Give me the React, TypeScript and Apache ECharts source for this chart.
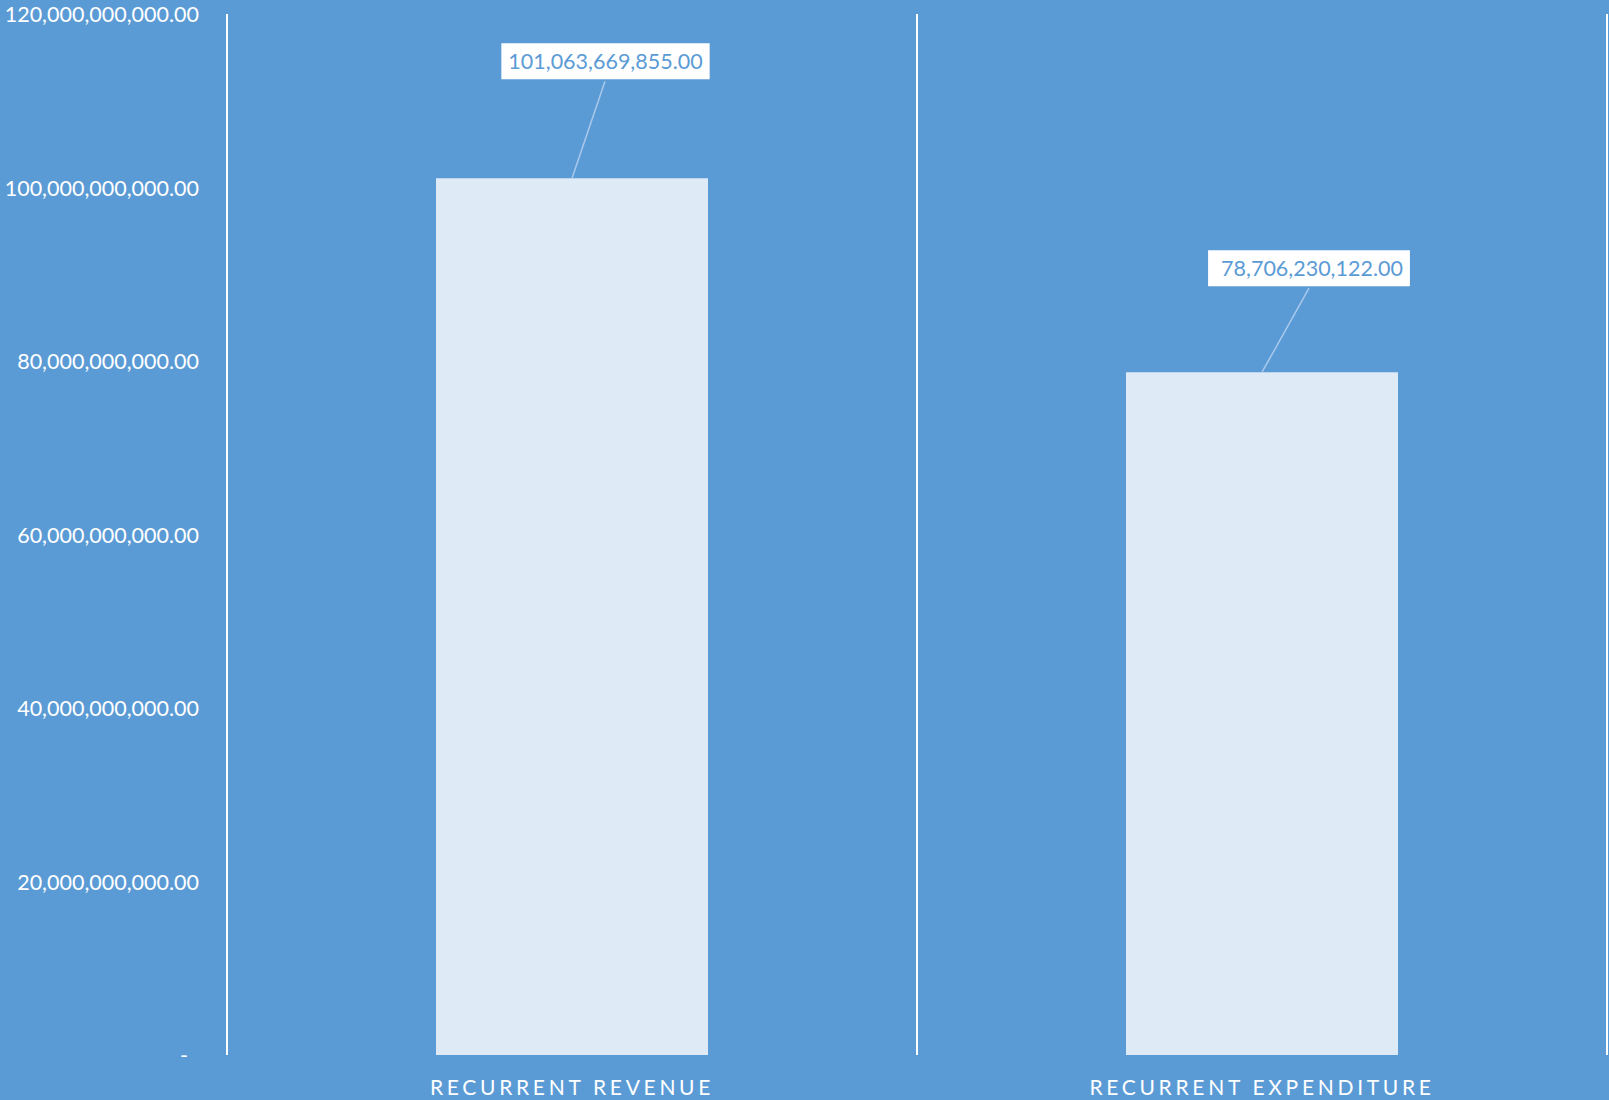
import React, { useEffect, useRef } from "react";
import * as echarts from "echarts";

const categories = ["RECURRENT REVENUE", "RECURRENT EXPENDITURE"];
const values = [101063669855.0, 78706230122.0];
const yTicks = { min: 0, max: 120000000000, interval: 20000000000 };
// label text centre offsets, box paddings and leader-line top offsets relative to bar-top centre (px)
const labelOffsets = [
  [33.5, -117],
  [47, -104],
];
const labelPaddings = [
  [7, 7, 7, 7],
  [7, 7, 7, 13],
];
const leaderTops = [
  [33, -97],
  [47, -84],
];

const BG = "#5B9BD5";
const BAR = "#DEEAF6";
const FONT = "Lato";

function fmt(v: number): string {
  return v.toLocaleString("en-US", { minimumFractionDigits: 2, maximumFractionDigits: 2 });
}

export default function App() {
  const ref = useRef<HTMLDivElement>(null);
  useEffect(() => {
    document.body.style.margin = "0";
    const el = ref.current!;
    const chart = echarts.init(el, undefined, { renderer: "svg" });
    chart.setOption({
      animation: false,
      backgroundColor: BG,
      grid: { left: 227, right: 2, top: 14, bottom: 45, containLabel: false, outerBoundsMode: "none" },
      xAxis: {
        type: "category",
        data: categories,
        boundaryGap: true,
        axisLine: { show: false },
        axisTick: { show: false },
        splitLine: { show: true, lineStyle: { color: "#FFFFFF", width: 2 } },
        axisLabel: {
          color: "#FFFFFF",
          fontFamily: FONT,
          fontSize: 21,
          margin: 21,
          interval: 0,
        },
      },
      yAxis: {
        type: "value",
        min: yTicks.min,
        max: yTicks.max,
        interval: yTicks.interval,
        axisLine: { show: false },
        axisTick: { show: false },
        splitLine: { show: false },
        axisLabel: {
          color: "#FFFFFF",
          fontFamily: FONT,
          fontSize: 21.5,
          margin: 28,
          formatter: (v: number) => (v === 0 ? "{z|-}" : fmt(v)),
          rich: {
            z: { color: "#FFFFFF", fontFamily: FONT, fontSize: 21.5, padding: [0, 11, 0, 0] },
          },
        },
      },
      series: [
        {
          type: "bar",
          data: values,
          barWidth: 272,
          itemStyle: { color: BAR },
          z: 2,
        },
        {
          type: "custom",
          z: 5,
          data: values.map((v, i) => [i, v]),
          encode: { x: 0, y: 1 },
          renderItem: (params: any, api: any) => {
            const i = params.dataIndex;
            const v = api.value(1);
            const p = api.coord([api.value(0), v]);
            const off = labelOffsets[i];
            const lt = leaderTops[i];
            return {
              type: "group",
              children: [
                {
                  type: "line",
                  shape: { x1: p[0], y1: p[1], x2: p[0] + lt[0], y2: p[1] + lt[1] },
                  style: { stroke: "#A9C9EC", lineWidth: 1.5 },
                },
                {
                  type: "text",
                  x: p[0] + off[0],
                  y: p[1] + off[1],
                  style: {
                    text: fmt(v),
                    fill: BG,
                    fontFamily: FONT,
                    fontSize: 21.5,
                    align: "center",
                    verticalAlign: "middle",
                    backgroundColor: "#FFFFFF",
                    padding: labelPaddings[i],
                  },
                },
              ],
            };
          },
        },
      ],
    });
    // letter-spaced category labels, as in the reference
    const texts = el.querySelectorAll("text");
    texts.forEach((t) => {
      if (categories.includes((t.textContent || "").trim())) {
        (t as SVGTextElement).style.letterSpacing = "3.7px";
      }
    });
    return () => chart.dispose();
  }, []);
  return <div ref={ref} style={{ width: 1609, height: 1100 }} />;
}
